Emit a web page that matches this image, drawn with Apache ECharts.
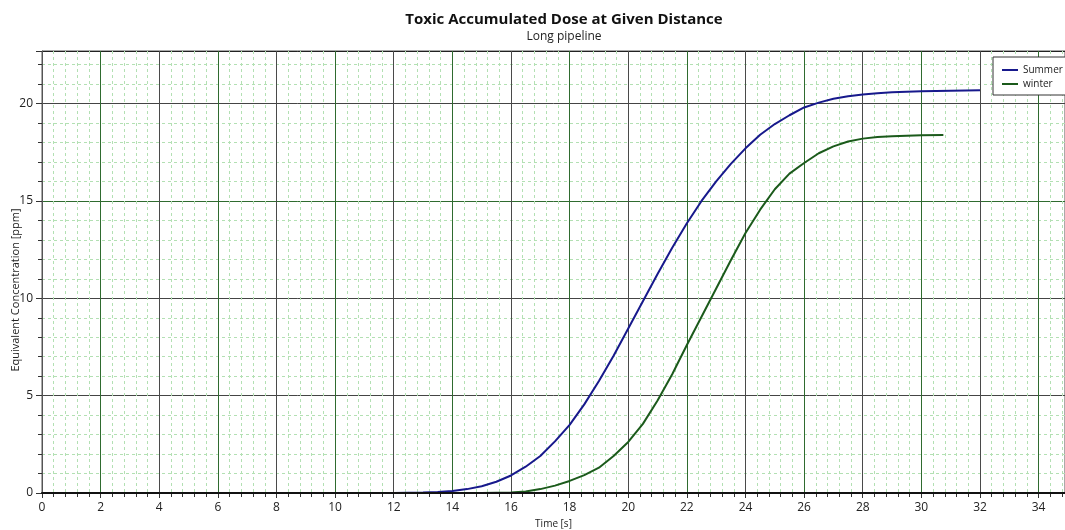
<!DOCTYPE html>
<html>
<head>
<meta charset="utf-8">
<script src="https://cdn.jsdelivr.net/npm/echarts@6/dist/echarts.min.js"></script>
<style>
html,body{margin:0;padding:0;background:#fff;}
#chart{width:1065px;height:530px;}
</style>
</head>
<body>
<div id="chart"></div>
<script>
var titleText = 'Toxic Accumulated Dose at Given Distance';
var subText = 'Long pipeline';
var xName = 'Time [s]';
var yName = 'Equivalent Concentration [ppm]';
var seriesNames = ['Summer', 'winter'];

var summerT = [0, 12, 13, 13.5, 14, 14.5, 15, 15.5, 16, 16.5, 17, 17.5, 18, 18.5, 19, 19.5, 20, 20.5, 21, 21.5, 22, 22.5, 23, 23.5, 24, 24.5, 25, 25.5, 26, 26.5, 27, 27.5, 28, 28.5, 29, 29.5, 30, 30.5, 31, 31.5, 32];
var summerV = [0, 0, 0.02, 0.05, 0.1, 0.2, 0.35, 0.58, 0.9, 1.35, 1.9, 2.65, 3.5, 4.55, 5.75, 7.05, 8.45, 9.85, 11.25, 12.6, 13.85, 15.0, 16.0, 16.9, 17.7, 18.4, 18.95, 19.4, 19.8, 20.05, 20.25, 20.38, 20.47, 20.53, 20.58, 20.61, 20.63, 20.65, 20.66, 20.67, 20.68];

var winterT = [0, 15, 16, 16.5, 17, 17.5, 18, 18.5, 19, 19.5, 20, 20.5, 21, 21.5, 22, 22.5, 23, 23.5, 24, 24.5, 25, 25.5, 26, 26.5, 27, 27.5, 28, 28.5, 29, 29.5, 30, 30.75];
var winterV = [0, 0, 0.02, 0.08, 0.2, 0.38, 0.62, 0.92, 1.3, 1.9, 2.62, 3.55, 4.75, 6.1, 7.6, 9.05, 10.5, 11.95, 13.35, 14.55, 15.6, 16.4, 16.95, 17.45, 17.8, 18.05, 18.2, 18.28, 18.32, 18.35, 18.37, 18.39];

function pairs(t, v) { return t.map(function (x, i) { return [x, v[i]]; }); }

var FONT = '"Open Sans", "Noto Sans", sans-serif';
var xMin = 0, xMax = 34.9, yMin = 0, yMax = 22.7;

var chart = echarts.init(document.getElementById('chart'), null, {renderer: 'canvas'});
chart.setOption({
  animation: false,
  backgroundColor: '#fff',
  textStyle: {fontFamily: FONT},
  title: {
    text: titleText,
    subtext: subText,
    left: 559,
    textAlign: 'center',
    top: 7,
    itemGap: 4,
    textStyle: {fontFamily: FONT, fontSize: 15, fontWeight: 'bold', color: '#111'},
    subtextStyle: {fontFamily: FONT, fontSize: 12, color: '#222'}
  },
  legend: {
    orient: 'vertical',
    left: 993,
    top: 57,
    padding: [8, 80, 6, 9],
    itemGap: 4,
    itemWidth: 16,
    itemHeight: 2,
    icon: 'rect',
    backgroundColor: '#fff',
    borderColor: '#333',
    borderWidth: 1,
    borderRadius: 0,
    textStyle: {fontFamily: FONT, fontSize: 10, color: '#222'},
    data: seriesNames
  },
  grid: {
    left: 42, right: 0, top: 51, bottom: 37,
    show: true, borderColor: '#555', borderWidth: 1,
    containLabel: false,
    outerBoundsMode: 'none'
  },
  xAxis: [{
    type: 'value', min: xMin, max: xMax, interval: 2,
    name: xName, nameLocation: 'middle', nameGap: 26, nameMoveOverlap: false,
    nameTextStyle: {fontFamily: FONT, fontSize: 10, color: '#222'},
    axisLine: {show: false},
    axisTick: {show: true, length: 5, lineStyle: {color: '#333'}},
    minorTick: {show: true, splitNumber: 5, length: 4, lineStyle: {color: '#333'}},
    axisLabel: {fontFamily: FONT, fontSize: 12, color: '#222', margin: 9, showMaxLabel: false},
    splitLine: {show: true, lineStyle: {color: ['#4a4a4a', '#2f6b2f'], width: 1}},
    minorSplitLine: {show: true, lineStyle: {color: '#b3e0b3', type: [3, 3], width: 1}}
  }, {
    type: 'value', min: xMin, max: xMax, position: 'bottom', z: 10,
    axisLine: {show: true, onZero: false, lineStyle: {color: '#111', width: 2}},
    axisTick: {show: false}, axisLabel: {show: false}, splitLine: {show: false}
  }],
  yAxis: [{
    type: 'value', min: yMin, max: yMax, interval: 5,
    name: yName, nameLocation: 'middle', nameGap: 21, nameMoveOverlap: false,
    nameTextStyle: {fontFamily: FONT, fontSize: 11, color: '#222', padding: [0, 0, 0, -36]},
    axisLine: {show: true, lineStyle: {color: '#555', width: 1}},
    axisTick: {show: true, length: 6, lineStyle: {color: '#333'}},
    minorTick: {show: true, splitNumber: 5, length: 4, lineStyle: {color: '#333'}},
    axisLabel: {fontFamily: FONT, fontSize: 12, color: '#222', margin: 9, showMaxLabel: false},
    splitLine: {show: true, lineStyle: {color: ['#222', '#444', '#444', '#2f6b2f', '#444'], width: 1}},
    minorSplitLine: {show: true, lineStyle: {color: '#b3e0b3', type: [3, 3], width: 1}}
  }],
  series: [{
    name: seriesNames[0], type: 'line', data: pairs(summerT, summerV),
    showSymbol: false, symbol: 'none', z: 5,
    lineStyle: {color: '#17198c', width: 2}, itemStyle: {color: '#17198c'}
  }, {
    name: seriesNames[1], type: 'line', data: pairs(winterT, winterV),
    showSymbol: false, symbol: 'none', z: 5,
    lineStyle: {color: '#1b5a1b', width: 2}, itemStyle: {color: '#1b5a1b'}
  }]
});
</script>
</body>
</html>
